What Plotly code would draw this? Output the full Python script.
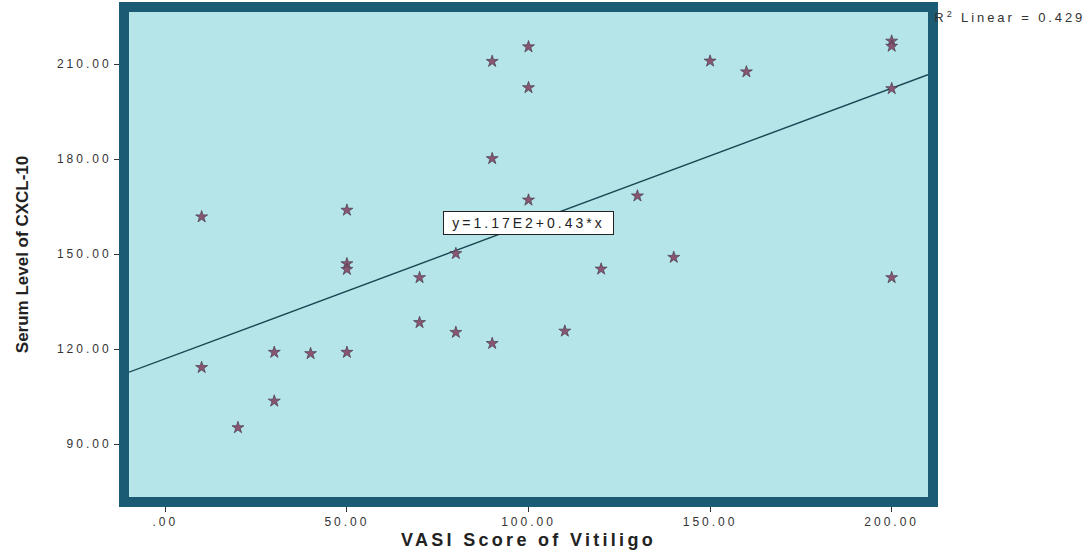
import plotly.graph_objects as go

# ---- data ----
vasi = [10, 10, 20, 30, 30, 40, 50, 50, 50, 50, 70, 70, 80, 80, 90, 90, 90,
        100, 100, 100, 110, 120, 130, 140, 150, 160, 200, 200, 200, 200]
cxcl10 = [161.8, 114.2, 95.2, 119.0, 103.6, 118.6, 163.9, 147.0, 145.2, 119.0,
          142.6, 128.4, 150.2, 125.3, 210.9, 180.2, 121.8, 215.5, 202.6, 167.1,
          125.7, 145.3, 168.4, 149.0, 211.0, 207.6, 217.3, 215.7, 202.3, 142.6]
x_ticks = [0, 50, 100, 150, 200]
x_tick_labels = [".00", "50.00", "100.00", "150.00", "200.00"]
y_ticks = [90, 120, 150, 180, 210]
y_tick_labels = ["90.00", "120.00", "150.00", "180.00", "210.00"]
x_range = [-10, 210]
y_range = [73.3, 226.5]
fit_intercept = 117.0
fit_slope = 0.427
equation_text = "y=1.17E2+0.43*x"
r2_text = "R<sup>2</sup> Linear = 0.429"
eq_pos = (100, 160)

BORDER = "#1b5b73"
BG = "#b5e5e8"

fit_x = list(x_range)
fit_y = [fit_intercept + fit_slope * v for v in fit_x]

fig = go.Figure()
fig.add_trace(go.Scatter(x=fit_x, y=fit_y, mode="lines",
                         line=dict(color="#1c4452", width=1.4),
                         hoverinfo="skip", showlegend=False))
fig.add_trace(go.Scatter(x=vasi, y=cxcl10, mode="markers",
                         marker=dict(symbol="star", size=9, color="#8a5570",
                                     line=dict(color="#463c50", width=0.7)),
                         showlegend=False))

fig.update_layout(
    width=1089, height=558,
    margin=dict(l=129, r=161, t=12, b=61, autoexpand=False),
    paper_bgcolor="white", plot_bgcolor=BG,
    font=dict(family="Liberation Sans, Arial, sans-serif", color="#333333"),
    xaxis=dict(range=x_range, tickvals=x_ticks, ticktext=x_tick_labels,
               showgrid=False, zeroline=False, automargin=False,
               showline=True, linewidth=10, linecolor=BORDER, mirror=True,
               ticks="outside", ticklen=5, tickcolor="#333333", tickwidth=1,
               tickfont=dict(size=12, color="#333333"),
               title=dict(text="VASI Score of Vitiligo", standoff=9,
                          font=dict(size=18, color="#222222", weight="bold"))),
    yaxis=dict(range=y_range, tickvals=y_ticks, ticktext=y_tick_labels,
               showgrid=False, zeroline=False, automargin=False,
               showline=True, linewidth=10, linecolor=BORDER, mirror=True,
               ticks="outside", ticklen=5, tickcolor="#333333", tickwidth=1,
               tickfont=dict(size=12, color="#333333"),
               title=dict(text="Serum Level of CXCL-10", standoff=46,
                          font=dict(size=17, color="#222222", weight="bold"))),
    annotations=[
        dict(x=eq_pos[0], y=eq_pos[1], xref="x", yref="y", text=equation_text,
             showarrow=False, bgcolor="white", bordercolor="#222222",
             borderwidth=1, borderpad=3, width=163, height=16,
             font=dict(size=14, color="#222222")),
        dict(x=1, y=1, xref="paper", yref="paper", xanchor="left", yanchor="top",
             xshift=29, yshift=5, text=r2_text, showarrow=False,
             font=dict(size=13, color="#333333")),
    ],
)

post = """
document.body.style.margin='0';
var gd=document.getElementById('{plot_id}');
function sp(sel,v){gd.querySelectorAll(sel).forEach(function(t){t.style.letterSpacing=v;});}
sp('.xtick text','3px'); sp('.ytick text','3px');
sp('.xtitle','3.3px');
var ann=gd.querySelectorAll('.annotation-text');
if(ann.length>0){ann[0].style.letterSpacing='3px';}
if(ann.length>1){ann[1].style.letterSpacing='2.9px';}
"""
fig.write_html("out.html", post_script=post, config={"displayModeBar": False})
